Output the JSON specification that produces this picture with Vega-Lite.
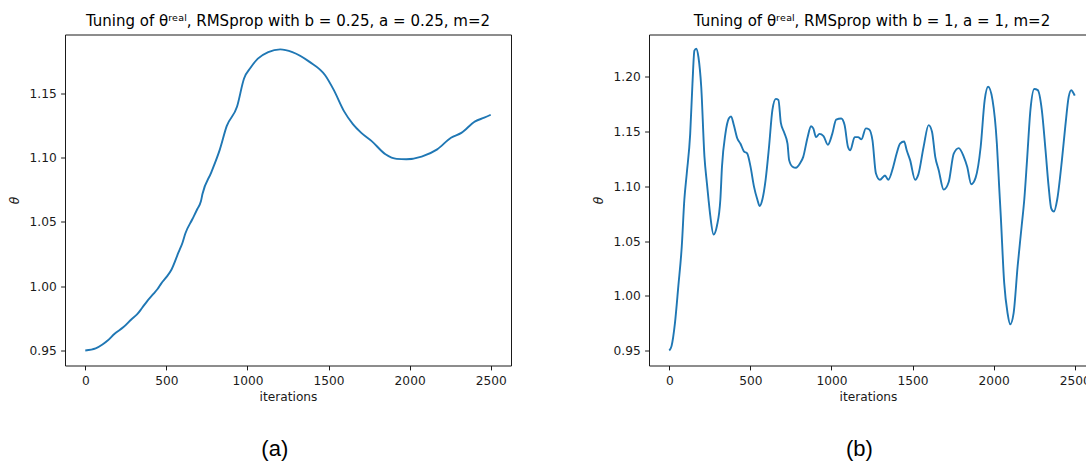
{
  "$schema": "https://vega.github.io/schema/vega-lite/v6.json",
  "padding": {"left": 8, "top": 13.5, "right": 0, "bottom": 0},
  "background": "white",
  "spacing": 80,
  "datasets": {
    "a": [
      {"iter": 0, "theta": 0.950}, {"iter": 64, "theta": 0.9516}, {"iter": 106, "theta": 0.9546},
      {"iter": 138, "theta": 0.9577}, {"iter": 181, "theta": 0.963}, {"iter": 234, "theta": 0.968},
      {"iter": 287, "theta": 0.9745}, {"iter": 319, "theta": 0.978}, {"iter": 350, "theta": 0.983},
      {"iter": 383, "theta": 0.9886}, {"iter": 420, "theta": 0.994}, {"iter": 447, "theta": 0.998},
      {"iter": 468, "theta": 1.002}, {"iter": 500, "theta": 1.007}, {"iter": 532, "theta": 1.013},
      {"iter": 574, "theta": 1.026}, {"iter": 600, "theta": 1.034}, {"iter": 617, "theta": 1.041},
      {"iter": 660, "theta": 1.052}, {"iter": 691, "theta": 1.06}, {"iter": 713, "theta": 1.066},
      {"iter": 723, "theta": 1.0718}, {"iter": 777, "theta": 1.0885}, {"iter": 830, "theta": 1.1064},
      {"iter": 872, "theta": 1.1244}, {"iter": 936, "theta": 1.1397}, {"iter": 979, "theta": 1.1615},
      {"iter": 1020, "theta": 1.170}, {"iter": 1064, "theta": 1.1769}, {"iter": 1128, "theta": 1.182},
      {"iter": 1202, "theta": 1.1841}, {"iter": 1277, "theta": 1.182}, {"iter": 1383, "theta": 1.1744},
      {"iter": 1479, "theta": 1.164}, {"iter": 1532, "theta": 1.1526}, {"iter": 1596, "theta": 1.1359},
      {"iter": 1650, "theta": 1.126}, {"iter": 1702, "theta": 1.1192}, {"iter": 1766, "theta": 1.1128},
      {"iter": 1851, "theta": 1.1026}, {"iter": 1920, "theta": 1.099}, {"iter": 1979, "theta": 1.0987},
      {"iter": 2074, "theta": 1.1008}, {"iter": 2170, "theta": 1.1064}, {"iter": 2255, "theta": 1.1154},
      {"iter": 2319, "theta": 1.1192}, {"iter": 2404, "theta": 1.1282}, {"iter": 2460, "theta": 1.131},
      {"iter": 2500, "theta": 1.1333}
    ],
    "b": [
      {"iter": 0, "theta": 0.950}, {"iter": 14, "theta": 0.954}, {"iter": 35, "theta": 0.975},
      {"iter": 56, "theta": 1.009}, {"iter": 77, "theta": 1.045}, {"iter": 93, "theta": 1.088},
      {"iter": 108, "theta": 1.112}, {"iter": 129, "theta": 1.148}, {"iter": 143, "theta": 1.194},
      {"iter": 155, "theta": 1.224}, {"iter": 166, "theta": 1.2258}, {"iter": 180, "theta": 1.218},
      {"iter": 197, "theta": 1.191}, {"iter": 217, "theta": 1.127}, {"iter": 232, "theta": 1.103},
      {"iter": 242, "theta": 1.088}, {"iter": 253, "theta": 1.073}, {"iter": 273, "theta": 1.056},
      {"iter": 294, "theta": 1.064}, {"iter": 315, "theta": 1.088}, {"iter": 325, "theta": 1.118},
      {"iter": 346, "theta": 1.148}, {"iter": 367, "theta": 1.162}, {"iter": 381, "theta": 1.164},
      {"iter": 398, "theta": 1.156}, {"iter": 419, "theta": 1.144}, {"iter": 439, "theta": 1.139},
      {"iter": 460, "theta": 1.132}, {"iter": 481, "theta": 1.130}, {"iter": 501, "theta": 1.118},
      {"iter": 522, "theta": 1.100}, {"iter": 543, "theta": 1.088}, {"iter": 557, "theta": 1.082},
      {"iter": 574, "theta": 1.088}, {"iter": 594, "theta": 1.106}, {"iter": 615, "theta": 1.136},
      {"iter": 636, "theta": 1.170}, {"iter": 657, "theta": 1.180}, {"iter": 673, "theta": 1.179},
      {"iter": 688, "theta": 1.158}, {"iter": 709, "theta": 1.149}, {"iter": 729, "theta": 1.139},
      {"iter": 739, "theta": 1.124}, {"iter": 760, "theta": 1.118}, {"iter": 781, "theta": 1.117},
      {"iter": 806, "theta": 1.121}, {"iter": 826, "theta": 1.127}, {"iter": 853, "theta": 1.145},
      {"iter": 874, "theta": 1.155}, {"iter": 888, "theta": 1.153}, {"iter": 905, "theta": 1.145},
      {"iter": 926, "theta": 1.148}, {"iter": 951, "theta": 1.146}, {"iter": 978, "theta": 1.138},
      {"iter": 1005, "theta": 1.148}, {"iter": 1029, "theta": 1.161}, {"iter": 1060, "theta": 1.162},
      {"iter": 1081, "theta": 1.156}, {"iter": 1102, "theta": 1.136}, {"iter": 1116, "theta": 1.133},
      {"iter": 1143, "theta": 1.145}, {"iter": 1164, "theta": 1.145}, {"iter": 1185, "theta": 1.143},
      {"iter": 1212, "theta": 1.153}, {"iter": 1233, "theta": 1.152}, {"iter": 1253, "theta": 1.142},
      {"iter": 1274, "theta": 1.112}, {"iter": 1299, "theta": 1.106}, {"iter": 1330, "theta": 1.110},
      {"iter": 1350, "theta": 1.106}, {"iter": 1381, "theta": 1.118}, {"iter": 1402, "theta": 1.130},
      {"iter": 1423, "theta": 1.139}, {"iter": 1448, "theta": 1.141}, {"iter": 1464, "theta": 1.133},
      {"iter": 1485, "theta": 1.124}, {"iter": 1516, "theta": 1.106}, {"iter": 1536, "theta": 1.111},
      {"iter": 1568, "theta": 1.136}, {"iter": 1599, "theta": 1.156}, {"iter": 1620, "theta": 1.150},
      {"iter": 1640, "theta": 1.127}, {"iter": 1661, "theta": 1.115}, {"iter": 1692, "theta": 1.097},
      {"iter": 1723, "theta": 1.104}, {"iter": 1754, "theta": 1.130}, {"iter": 1785, "theta": 1.135},
      {"iter": 1816, "theta": 1.127}, {"iter": 1837, "theta": 1.118}, {"iter": 1862, "theta": 1.102},
      {"iter": 1889, "theta": 1.108}, {"iter": 1920, "theta": 1.136}, {"iter": 1945, "theta": 1.179},
      {"iter": 1966, "theta": 1.191}, {"iter": 1993, "theta": 1.179}, {"iter": 2020, "theta": 1.139},
      {"iter": 2034, "theta": 1.100}, {"iter": 2044, "theta": 1.073}, {"iter": 2065, "theta": 1.012},
      {"iter": 2086, "theta": 0.984}, {"iter": 2102, "theta": 0.974}, {"iter": 2123, "theta": 0.984},
      {"iter": 2148, "theta": 1.027}, {"iter": 2173, "theta": 1.064}, {"iter": 2189, "theta": 1.088},
      {"iter": 2206, "theta": 1.124}, {"iter": 2227, "theta": 1.170}, {"iter": 2251, "theta": 1.189},
      {"iter": 2272, "theta": 1.188}, {"iter": 2297, "theta": 1.170}, {"iter": 2320, "theta": 1.133},
      {"iter": 2339, "theta": 1.100}, {"iter": 2355, "theta": 1.080}, {"iter": 2372, "theta": 1.077},
      {"iter": 2392, "theta": 1.088}, {"iter": 2421, "theta": 1.124}, {"iter": 2442, "theta": 1.155},
      {"iter": 2463, "theta": 1.182}, {"iter": 2479, "theta": 1.188}, {"iter": 2489, "theta": 1.186},
      {"iter": 2500, "theta": 1.183}
    ]
  },
  "config": {
    "font": "DejaVu Sans",
    "view": {"stroke": "#1a1a1a", "strokeWidth": 1},
    "axis": {
      "domain": false, "grid": false,
      "tickColor": "#1a1a1a", "tickSize": 4.4, "tickWidth": 1,
      "labelFont": "DejaVu Sans", "labelFontSize": 12.2, "labelColor": "#1a1a1a", "labelPadding": 4.4,
      "labelFlush": false, "labelOverlap": false,
      "titleFont": "DejaVu Sans", "titleFontSize": 12.2, "titleFontWeight": "normal", "titleColor": "#1a1a1a"
    },
    "axisX": {"titlePadding": 4.4, "format": "d"},
    "axisY": {"titleFontStyle": "italic", "titlePadding": 7.5},
    "title": {"font": "DejaVu Sans", "fontSize": 15, "fontWeight": "normal", "color": "#000", "offset": 5.5}
  },
  "hconcat": [
    {
      "title": {"text": "(a)", "orient": "bottom", "anchor": "middle", "frame": "bounds", "dx": 15, "font": "Liberation Sans", "fontSize": 22, "fontWeight": "normal", "color": "#000", "offset": 35},
      "vconcat": [
        {
          "width": 446, "height": 331,
          "title": {"text": "Tuning of θʳᵉᵃˡ, RMSprop with b = 0.25, a = 0.25, m=2"},
          "data": {"name": "a"},
          "mark": {"type": "line", "color": "#1f77b4", "strokeWidth": 1.9, "interpolate": "monotone"},
          "encoding": {
            "x": {"field": "iter", "type": "quantitative", "scale": {"domain": [-125, 2625], "nice": false, "zero": false},
                  "axis": {"values": [0, 500, 1000, 1500, 2000, 2500], "title": "iterations"}},
            "y": {"field": "theta", "type": "quantitative", "scale": {"domain": [0.9383, 1.1957], "nice": false, "zero": false},
                  "axis": {"values": [0.95, 1.0, 1.05, 1.1, 1.15], "format": ".2f", "title": "θ"}}
          }
        }
      ]
    },
    {
      "title": {"text": "(b)", "orient": "bottom", "anchor": "middle", "frame": "bounds", "dx": 18, "font": "Liberation Sans", "fontSize": 22, "fontWeight": "normal", "color": "#000", "offset": 35},
      "vconcat": [
        {
          "width": 438, "height": 331,
          "title": {"text": "Tuning of θʳᵉᵃˡ, RMSprop with b = 1, a = 1, m=2", "dx": 4},
          "data": {"name": "b"},
          "mark": {"type": "line", "color": "#1f77b4", "strokeWidth": 1.9, "interpolate": "monotone"},
          "encoding": {
            "x": {"field": "iter", "type": "quantitative", "scale": {"domain": [-125, 2575.7], "nice": false, "zero": false},
                  "axis": {"values": [0, 500, 1000, 1500, 2000, 2500], "title": "iterations"}},
            "y": {"field": "theta", "type": "quantitative", "scale": {"domain": [0.9363, 1.2388], "nice": false, "zero": false},
                  "axis": {"values": [0.95, 1.0, 1.05, 1.1, 1.15, 1.2], "format": ".2f", "title": "θ"}}
          }
        }
      ]
    }
  ]
}
